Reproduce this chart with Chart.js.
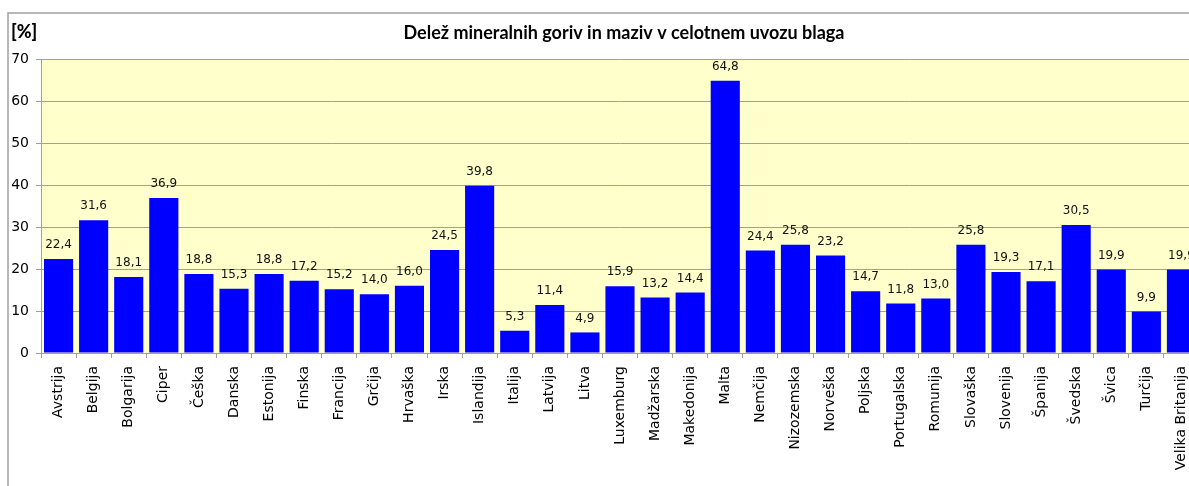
<!DOCTYPE html>
<html lang="sl">
<head>
    <meta charset="UTF-8"/>
    <title>Delež mineralnih goriv in maziv v celotnem uvozu blaga</title>
    <script src="https://cdn.jsdelivr.net/npm/chart.js"></script>
    <style>
        html, body { margin: 0; padding: 0; background: #fff; overflow: hidden; }
        #wrap { width: 1210px; height: 486px; }
    </style>
</head>
<body>
    <div id="wrap"><canvas id="grafikon" width="1210" height="486"></canvas></div>
    <script>
        // podatki
        const drzave = ['Avstrija', 'Belgija', 'Bolgarija', 'Ciper', 'Češka', 'Danska', 'Estonija', 'Finska',
            'Francija', 'Grčija', 'Hrvaška', 'Irska', 'Islandija', 'Italija', 'Latvija', 'Litva', 'Luxemburg',
            'Madžarska', 'Makedonija', 'Malta', 'Nemčija', 'Nizozemska', 'Norveška', 'Poljska', 'Portugalska',
            'Romunija', 'Slovaška', 'Slovenija', 'Španija', 'Švedska', 'Švica', 'Turčija', 'Velika Britanija'];
        const delez = [22.4, 31.6, 18.1, 36.9, 18.8, 15.3, 18.8, 17.2, 15.2, 14.0, 16.0, 24.5, 39.8, 5.3, 11.4,
            4.9, 15.9, 13.2, 14.4, 64.8, 24.4, 25.8, 23.2, 14.7, 11.8, 13.0, 25.8, 19.3, 17.1, 30.5, 19.9, 9.9, 19.9];
        const yTicks = [0, 10, 20, 30, 40, 50, 60, 70];
        const naslov = 'Delež mineralnih goriv in maziv v celotnem uvozu blaga';
        const enota = '[%]';

        const siva = '#a0a0a0';

        // ozadje, okvir, naslov in oznake vrednosti
        const okrasi = {
            id: 'okrasi',
            beforeDraw(chart) {
                const c = chart.ctx, a = chart.chartArea;
                c.save();
                c.fillStyle = '#ffffcc';
                c.fillRect(a.left, a.top, a.right - a.left, a.bottom - a.top);
                c.strokeStyle = siva;
                c.lineWidth = 1.5;
                c.beginPath();
                c.moveTo(8, 486);
                c.lineTo(8, 13);
                c.lineTo(chart.width, 13);
                c.stroke();
                c.fillStyle = '#000';
                c.font = 'bold 18px Lato';
                c.textBaseline = 'middle';
                c.textAlign = 'center';
                c.fillText(naslov, 624, 33);
                c.textAlign = 'left';
                c.font = '900 18px Lato';
                c.fillText(enota, 11, 32);
                c.restore();
            },
            afterDatasetsDraw(chart) {
                const c = chart.ctx;
                c.save();
                c.fillStyle = '#111';
                c.font = '12px "DejaVu Sans"';
                c.textAlign = 'center';
                c.textBaseline = 'middle';
                chart.getDatasetMeta(0).data.forEach((bar, i) => {
                    c.fillText(delez[i].toFixed(1).replace('.', ','), bar.x, bar.y - 14);
                });
                c.restore();
            }
        };

        new Chart(document.getElementById('grafikon'), {
            type: 'bar',
            data: {
                labels: drzave,
                datasets: [{
                    data: delez,
                    backgroundColor: '#0000ff',
                    barPercentage: 0.83,
                    categoryPercentage: 1
                }]
            },
            options: {
                responsive: false,
                animation: false,
                layout: { padding: { top: 59, left: 0, right: 11, bottom: 0 } },
                plugins: { legend: { display: false }, tooltip: { enabled: false } },
                scales: {
                    x: {
                        afterFit(s) { s.height = 133; },
                        grid: { drawOnChartArea: false, drawTicks: true, tickLength: 5, color: siva },
                        border: { color: siva, width: 1 },
                        ticks: {
                            minRotation: 90, maxRotation: 90, autoSkip: false, padding: 8,
                            color: '#000', font: { family: 'DejaVu Sans', size: 14 }
                        }
                    },
                    y: {
                        min: 0, max: 70,
                        afterFit(s) { s.width = 41; },
                        afterBuildTicks(s) { s.ticks = yTicks.map(v => ({ value: v })); },
                        grid: { color: siva, tickLength: 5 },
                        border: { color: siva, width: 1 },
                        ticks: { padding: 7, color: '#000', font: { family: 'DejaVu Sans', size: 14 } }
                    }
                }
            },
            plugins: [okrasi]
        });
    </script>
</body>
</html>
